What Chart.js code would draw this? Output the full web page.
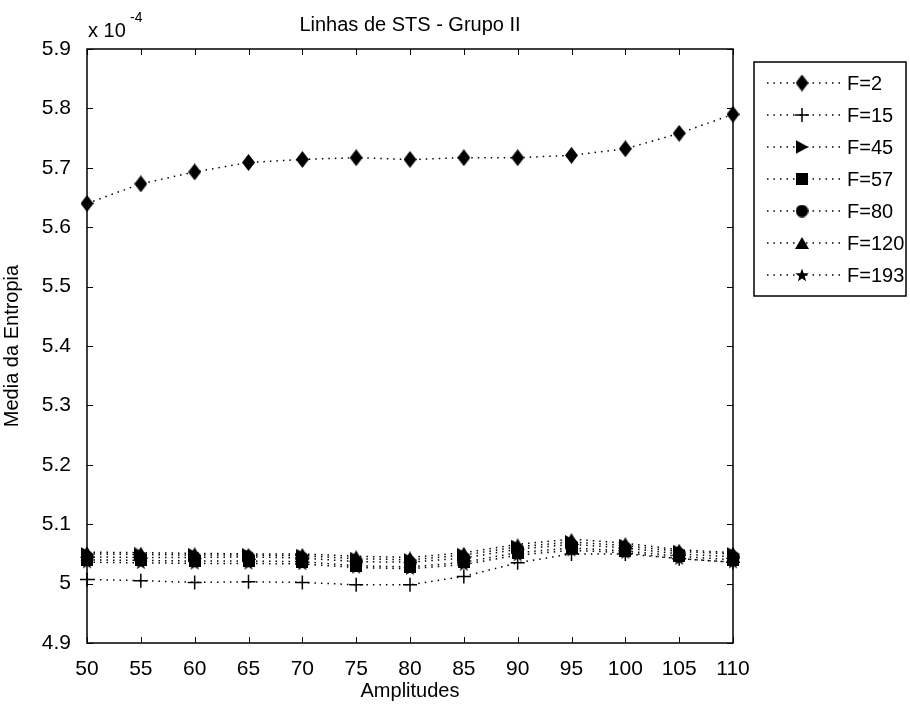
<!DOCTYPE html>
<html>
<head>
<meta charset="utf-8">
<title>Linhas de STS - Grupo II</title>
<script src="https://cdn.jsdelivr.net/npm/chart.js@4/dist/chart.umd.min.js"></script>
<style>
  html, body { margin: 0; padding: 0; background: #fff; }
  #wrap { width: 910px; height: 707px; }
</style>
</head>
<body>
<div id="wrap"><canvas id="chartSTS"></canvas></div>
<script>
// DATA (values x 10^-4)
const amplitudes = [50, 55, 60, 65, 70, 75, 80, 85, 90, 95, 100, 105, 110];
const yTicks = [4.9, 5.0, 5.1, 5.2, 5.3, 5.4, 5.5, 5.6, 5.7, 5.8, 5.9];
const seriesNames = ["F=2", "F=15", "F=45", "F=57", "F=80", "F=120", "F=193"];

const f2   = [5.640, 5.673, 5.693, 5.709, 5.714, 5.717, 5.714, 5.717, 5.717, 5.721, 5.732, 5.758, 5.790];
const f15  = [5.007, 5.005, 5.002, 5.003, 5.002, 4.998, 4.998, 5.012, 5.035, 5.050, 5.050, 5.042, 5.036];
const f45  = [5.050, 5.049, 5.048, 5.048, 5.047, 5.042, 5.040, 5.048, 5.062, 5.070, 5.064, 5.054, 5.050];
const f57  = [5.040, 5.039, 5.038, 5.038, 5.037, 5.030, 5.028, 5.036, 5.052, 5.060, 5.055, 5.046, 5.040];
const f80  = [5.045, 5.044, 5.044, 5.045, 5.043, 5.037, 5.036, 5.043, 5.058, 5.066, 5.060, 5.050, 5.045];
const f120 = [5.053, 5.052, 5.051, 5.050, 5.050, 5.046, 5.044, 5.052, 5.066, 5.075, 5.068, 5.057, 5.052];
const f193 = [5.036, 5.035, 5.034, 5.034, 5.033, 5.027, 5.025, 5.032, 5.048, 5.056, 5.052, 5.042, 5.036];

const FONT = '"Liberation Sans", Arial, sans-serif';

// MARKERS (small canvases, like matlab symbols)
function marker(w, h, draw) {
  const c = document.createElement('canvas');
  c.width = w; c.height = h;
  const ctx = c.getContext('2d');
  ctx.fillStyle = '#000';
  ctx.beginPath();
  draw(ctx, w, h);
  ctx.closePath();
  ctx.fill();
  return c;
}
const mDiamond = marker(13, 17, (c, w, h) => { c.moveTo(w/2, 0); c.lineTo(w, h/2); c.lineTo(w/2, h); c.lineTo(0, h/2); });
const mTriRight = marker(13, 14, (c, w, h) => { c.moveTo(0, 0); c.lineTo(w, h/2); c.lineTo(0, h); });
const mSquare = marker(12, 12, (c, w, h) => { c.rect(0, 0, w, h); });
const mCircle = marker(13, 13, (c, w, h) => { c.arc(w/2, h/2, 6.3, 0, Math.PI * 2); });
const mTriUp = marker(14, 12, (c, w, h) => { c.moveTo(w/2, 0); c.lineTo(w, h); c.lineTo(0, h); });
const mStar = marker(14, 14, (c, w, h) => {
  for (let i = 0; i < 10; i++) {
    const r = i % 2 === 0 ? 7 : 2.9;
    const a = -Math.PI / 2 + i * Math.PI / 5;
    c.lineTo(w/2 + r * Math.cos(a), h/2 + 0.5 + r * Math.sin(a));
  }
});

function serie(label, values, style) {
  return {
    label: label,
    data: values.map((v, i) => ({ x: amplitudes[i], y: v })),
    borderColor: '#000',
    backgroundColor: '#000',
    borderWidth: 1.5,
    borderDash: [1.5, 5],
    pointStyle: style,
    pointRadius: 7,
    pointBorderWidth: 1.5,
    pointBorderColor: '#000',
    pointBackgroundColor: '#000',
    tension: 0,
    clip: false
  };
}

const datasets = [
  serie(seriesNames[0], f2, mDiamond),
  serie(seriesNames[1], f15, 'cross'),
  serie(seriesNames[2], f45, mTriRight),
  serie(seriesNames[3], f57, mSquare),
  serie(seriesNames[4], f80, mCircle),
  serie(seriesNames[5], f120, mTriUp),
  serie(seriesNames[6], f193, mStar)
];

// box, inward ticks, title, exponent and legend
const matlabLook = {
  id: 'matlabLook',
  afterDraw(chart) {
    const ctx = chart.ctx;
    const a = chart.chartArea;
    const xs = chart.scales.x, ys = chart.scales.y;
    ctx.save();
    ctx.strokeStyle = '#000';
    ctx.lineWidth = 1.5;
    ctx.setLineDash([]);
    ctx.strokeRect(a.left, a.top, a.right - a.left, a.bottom - a.top);
    ctx.lineWidth = 1;
    ctx.beginPath();
    amplitudes.forEach(v => {
      const px = Math.round(xs.getPixelForValue(v)) + 0.5;
      ctx.moveTo(px, a.bottom); ctx.lineTo(px, a.bottom - 6);
      ctx.moveTo(px, a.top); ctx.lineTo(px, a.top + 6);
    });
    yTicks.forEach(v => {
      const py = Math.round(ys.getPixelForValue(v)) + 0.5;
      ctx.moveTo(a.left, py); ctx.lineTo(a.left + 6, py);
      ctx.moveTo(a.right, py); ctx.lineTo(a.right - 6, py);
    });
    ctx.stroke();

    // title
    ctx.fillStyle = '#000';
    ctx.font = '20px ' + FONT;
    ctx.textAlign = 'center';
    ctx.textBaseline = 'middle';
    ctx.fillText('Linhas de STS - Grupo II', (a.left + a.right) / 2, 25);

    // exponent
    ctx.textAlign = 'left';
    ctx.font = '20px ' + FONT;
    ctx.fillText('x 10', a.left + 1, 31);
    ctx.font = '14px ' + FONT;
    ctx.fillText('-4', a.left + 43, 18);

    // legend
    const lx = 754, ly = 62, lw = 152, lh = 234;
    ctx.fillStyle = '#fff';
    ctx.fillRect(lx, ly, lw, lh);
    ctx.lineWidth = 1.5;
    ctx.strokeRect(lx, ly, lw, lh);
    chart.data.datasets.forEach((ds, i) => {
      const y = 83 + i * 32;
      ctx.strokeStyle = '#000';
      ctx.lineWidth = 1.5;
      ctx.setLineDash([1.5, 5]);
      ctx.beginPath();
      ctx.moveTo(767, y); ctx.lineTo(840, y);
      ctx.stroke();
      ctx.setLineDash([]);
      ctx.fillStyle = '#000';
      Chart.helpers.drawPoint(ctx, { pointStyle: ds.pointStyle, radius: 7, borderWidth: 1.5 }, 802, y);
      ctx.fillStyle = '#000';
      ctx.font = '20px ' + FONT;
      ctx.textAlign = 'left';
      ctx.textBaseline = 'middle';
      ctx.fillText(ds.label, 847, y + 1);
    });
    ctx.restore();
  }
};

new Chart(document.getElementById('chartSTS'), {
  type: 'line',
  data: { datasets: datasets },
  plugins: [matlabLook],
  options: {
    responsive: true,
    maintainAspectRatio: false,
    animation: false,
    events: [],
    layout: { padding: { left: 0, top: 49, right: 177, bottom: 0 } },
    plugins: { legend: { display: false }, tooltip: { enabled: false } },
    scales: {
      x: {
        type: 'linear',
        min: 50, max: 110,
        afterFit: s => { s.height = 64; },
        afterBuildTicks: s => { s.ticks = amplitudes.map(v => ({ value: v })); },
        grid: { display: false },
        border: { display: false },
        ticks: { color: '#000', font: { family: FONT, size: 21 }, padding: 6, maxRotation: 0, autoSkip: false },
        title: { display: true, text: 'Amplitudes', color: '#000', font: { family: FONT, size: 20 }, padding: { top: 0, bottom: 4 } }
      },
      y: {
        type: 'linear',
        min: 4.9, max: 5.9,
        afterFit: s => { s.width = 87; },
        afterBuildTicks: s => { s.ticks = yTicks.map(v => ({ value: v })); },
        grid: { display: false },
        border: { display: false },
        ticks: { color: '#000', font: { family: FONT, size: 21 }, padding: 8, autoSkip: false,
                 callback: v => String(Math.round(v * 10) / 10) },
        title: { display: true, text: 'Media da Entropia', color: '#000', font: { family: FONT, size: 20 }, padding: { top: 0, bottom: 6 } }
      }
    }
  }
});
</script>
</body>
</html>
